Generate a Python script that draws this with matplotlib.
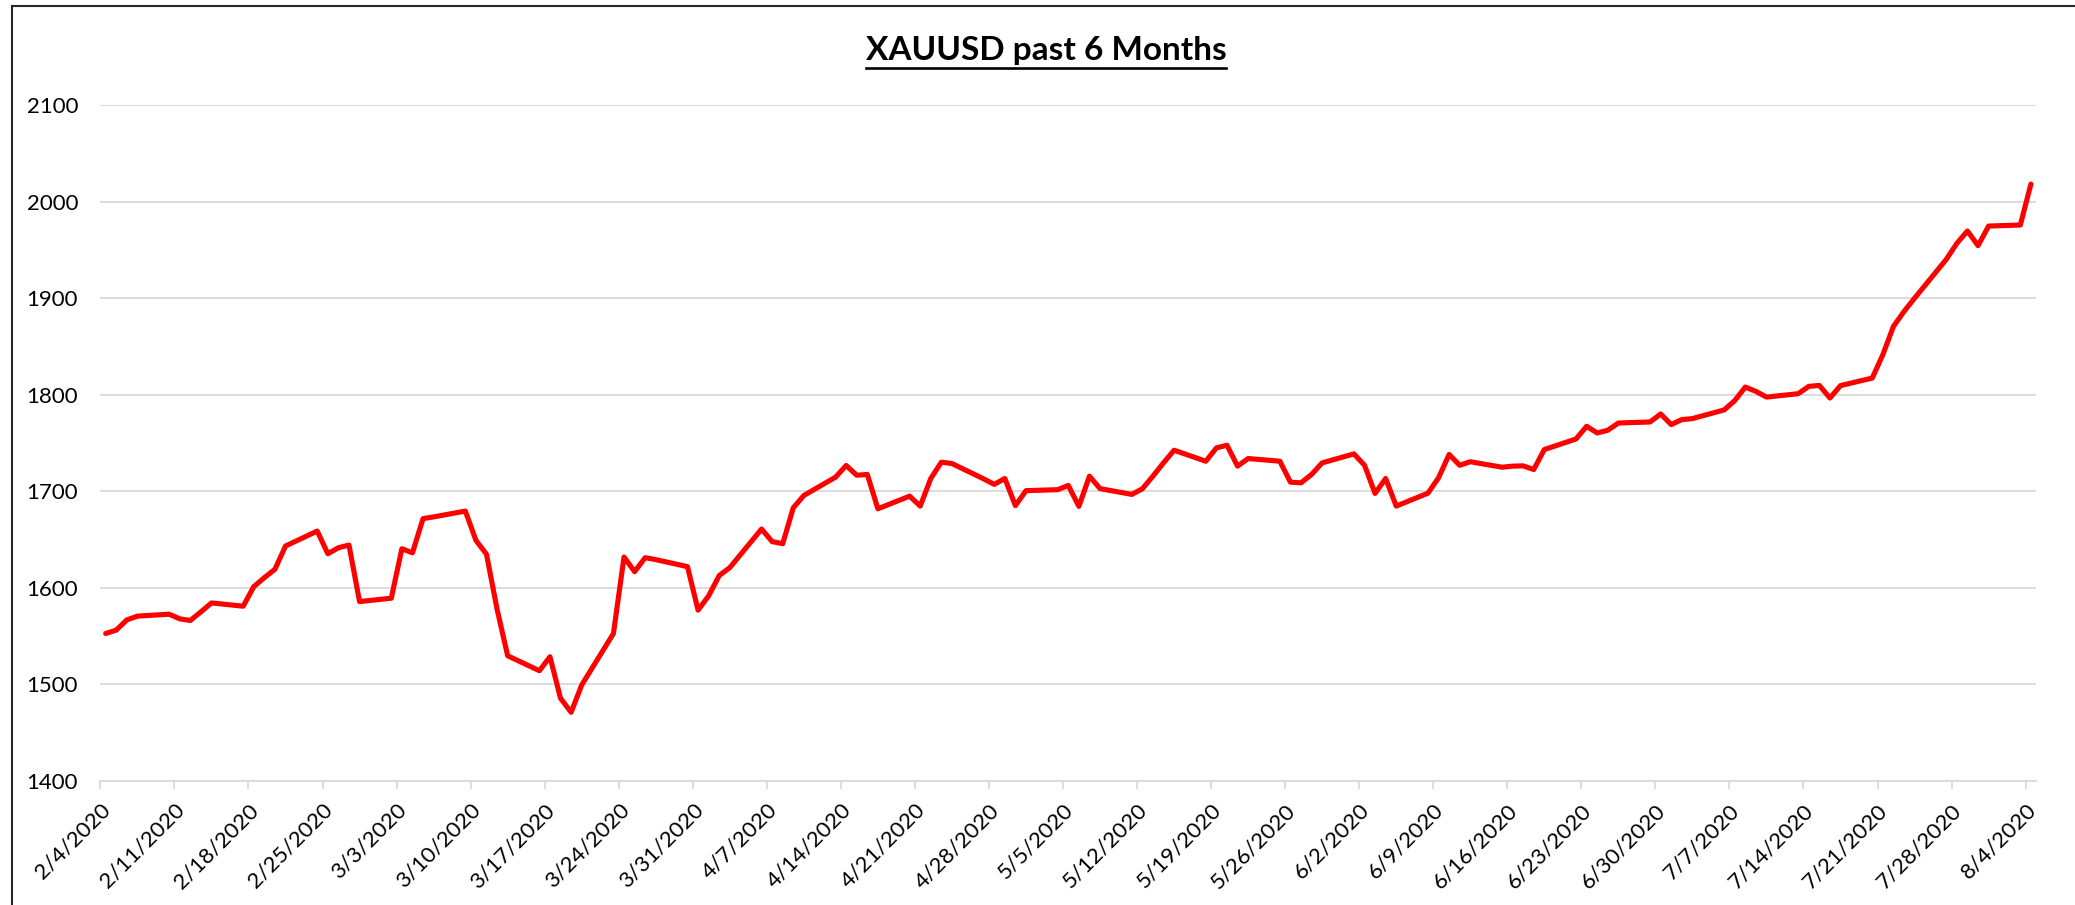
import datetime as dt
import matplotlib
matplotlib.use('Agg')
import matplotlib.pyplot as plt
import matplotlib.dates as mdates
from matplotlib.lines import Line2D
from matplotlib.patches import Rectangle

# daily closes, trading days only (month -> days)
feb_days = [4, 5, 6, 7, 10, 11, 12, 13, 14, 17, 18, 19, 20, 21, 24, 25, 26, 27, 28]
feb_vals = [1552.4, 1555.9, 1566.5, 1570.4, 1572.4, 1567.6, 1565.9, 1574.8, 1584.1, 1580.7,
            1601.0, 1610.3, 1619.0, 1643.1, 1658.6, 1635.1, 1641.3, 1644.1, 1585.5]

mar_days = [2, 3, 4, 5, 6, 9, 10, 11, 12, 13, 16, 17, 18, 19, 20, 23, 24, 25, 26, 27, 30, 31]
mar_vals = [1589.0, 1640.3, 1636.0, 1671.5, 1673.3, 1679.3, 1649.0, 1634.5, 1577.6, 1529.3,
            1513.8, 1528.3, 1485.2, 1470.7, 1499.0, 1552.4, 1631.7, 1616.5, 1631.0, 1629.0,
            1621.7, 1576.6]

apr_days = [1, 2, 3, 6, 7, 8, 9, 10, 13, 14, 15, 16, 17, 20, 21, 22, 23, 24, 27, 28, 29, 30]
apr_vals = [1591.4, 1612.5, 1620.7, 1660.7, 1647.7, 1645.5, 1682.7, 1695.5, 1714.5, 1726.6,
            1716.5, 1717.3, 1681.7, 1694.8, 1684.5, 1713.1, 1730.0, 1728.6, 1712.7, 1707.0,
            1713.1, 1685.0]

may_days = [1, 4, 5, 6, 7, 8, 11, 12, 13, 14, 15, 18, 19, 20, 21, 22, 25, 26, 27, 28, 29]
may_vals = [1700.5, 1701.5, 1705.9, 1684.2, 1715.5, 1702.6, 1696.6, 1702.4, 1715.5, 1729.3,
            1742.4, 1731.0, 1744.8, 1747.6, 1725.9, 1733.8, 1731.0, 1709.3, 1708.6, 1717.3,
            1729.3]

jun_days = [1, 2, 3, 4, 5, 8, 9, 10, 11, 12, 15, 16, 17, 18, 19, 22, 23, 24, 25, 26, 29, 30]
jun_vals = [1738.6, 1726.9, 1697.6, 1713.1, 1684.5, 1697.9, 1713.8, 1738.0, 1726.8, 1730.5,
            1724.8, 1725.9, 1726.2, 1722.4, 1743.1, 1754.1, 1767.2, 1760.3, 1763.1, 1770.6,
            1771.7, 1780.0]

jul_days = [1, 2, 3, 6, 7, 8, 9, 10, 13, 14, 15, 16, 17, 20, 21, 22, 23, 24, 27, 28, 29, 30, 31]
jul_vals = [1769.0, 1774.2, 1775.2, 1784.2, 1793.8, 1807.9, 1803.4, 1797.5, 1801.0, 1808.6,
            1809.6, 1796.5, 1809.4, 1817.2, 1841.4, 1870.7, 1886.2, 1900.0, 1940.3, 1956.9,
            1969.7, 1954.5, 1974.8]

aug_days = [3, 4]
aug_vals = [1975.9, 2018.3]

title = 'XAUUSD past 6 Months'
y_ticks = [1400, 1500, 1600, 1700, 1800, 1900, 2000, 2100]

dates = []
prices = []
for month, days, vals in [(2, feb_days, feb_vals), (3, mar_days, mar_vals), (4, apr_days, apr_vals),
                          (5, may_days, may_vals), (6, jun_days, jun_vals), (7, jul_days, jul_vals),
                          (8, aug_days, aug_vals)]:
    for d, v in zip(days, vals):
        dates.append(dt.date(2020, month, d))
        prices.append(v)

x = mdates.date2num(dates)

plt.rcParams['font.family'] = ['Lato', 'DejaVu Sans']

W, H = 2075, 905
fig = plt.figure(figsize=(W / 100, H / 100), dpi=100)
ax = fig.add_axes([100.4 / W, 1 - 780.5 / H, (2036.2 - 100.4) / W, (780.5 - 105.3) / H])

ax.plot(x, prices, color='#ff0000', lw=3.7, solid_joinstyle='round', solid_capstyle='round')

ax.set_ylim(1400, 2100)
ax.set_yticks(y_ticks)
ax.set_xlim(x[0] - 0.5, x[-1] + 0.5)

# weekly ticks sit on the day boundary, Excel-style
tick_dates = [dates[0] + dt.timedelta(days=7 * i) for i in range((dates[-1] - dates[0]).days // 7 + 1)]
ax.set_xticks(mdates.date2num(tick_dates) - 0.5)
ax.set_xticklabels([f'{d.month}/{d.day}/{d.year}' for d in tick_dates],
                   rotation=45, ha='right', va='top', rotation_mode='anchor')

ax.grid(axis='y', color='#d9d9d9', lw=1.3)
ax.set_axisbelow(True)
for side in ['top', 'right', 'left']:
    ax.spines[side].set_visible(False)
ax.spines['bottom'].set_color('#d9d9d9')
ax.spines['bottom'].set_linewidth(1.3)

ax.tick_params(axis='y', length=0, pad=16, labelsize=16)
ax.tick_params(axis='x', length=6, width=1.3, color='#d9d9d9', labelsize=16, pad=8)

t = fig.text(1046 / W, 1 - 60 / H, title, ha='center', va='baseline',
             fontsize=24, fontweight='bold')

# chart border (only left and top are inside the picture)
fig.add_artist(Rectangle((12.3 / W, -0.1), 1.2, 1.1 - 6 / H, transform=fig.transFigure,
                         fill=False, edgecolor='#262626', lw=1.5))

# underline for the title
fig.canvas.draw()
bb = t.get_window_extent().transformed(fig.transFigure.inverted())
fig.add_artist(Line2D([bb.x0, bb.x1], [1 - 67.7 / H, 1 - 67.7 / H], transform=fig.transFigure,
                      color='black', lw=1.9))

fig.savefig('out.png', dpi=100)
